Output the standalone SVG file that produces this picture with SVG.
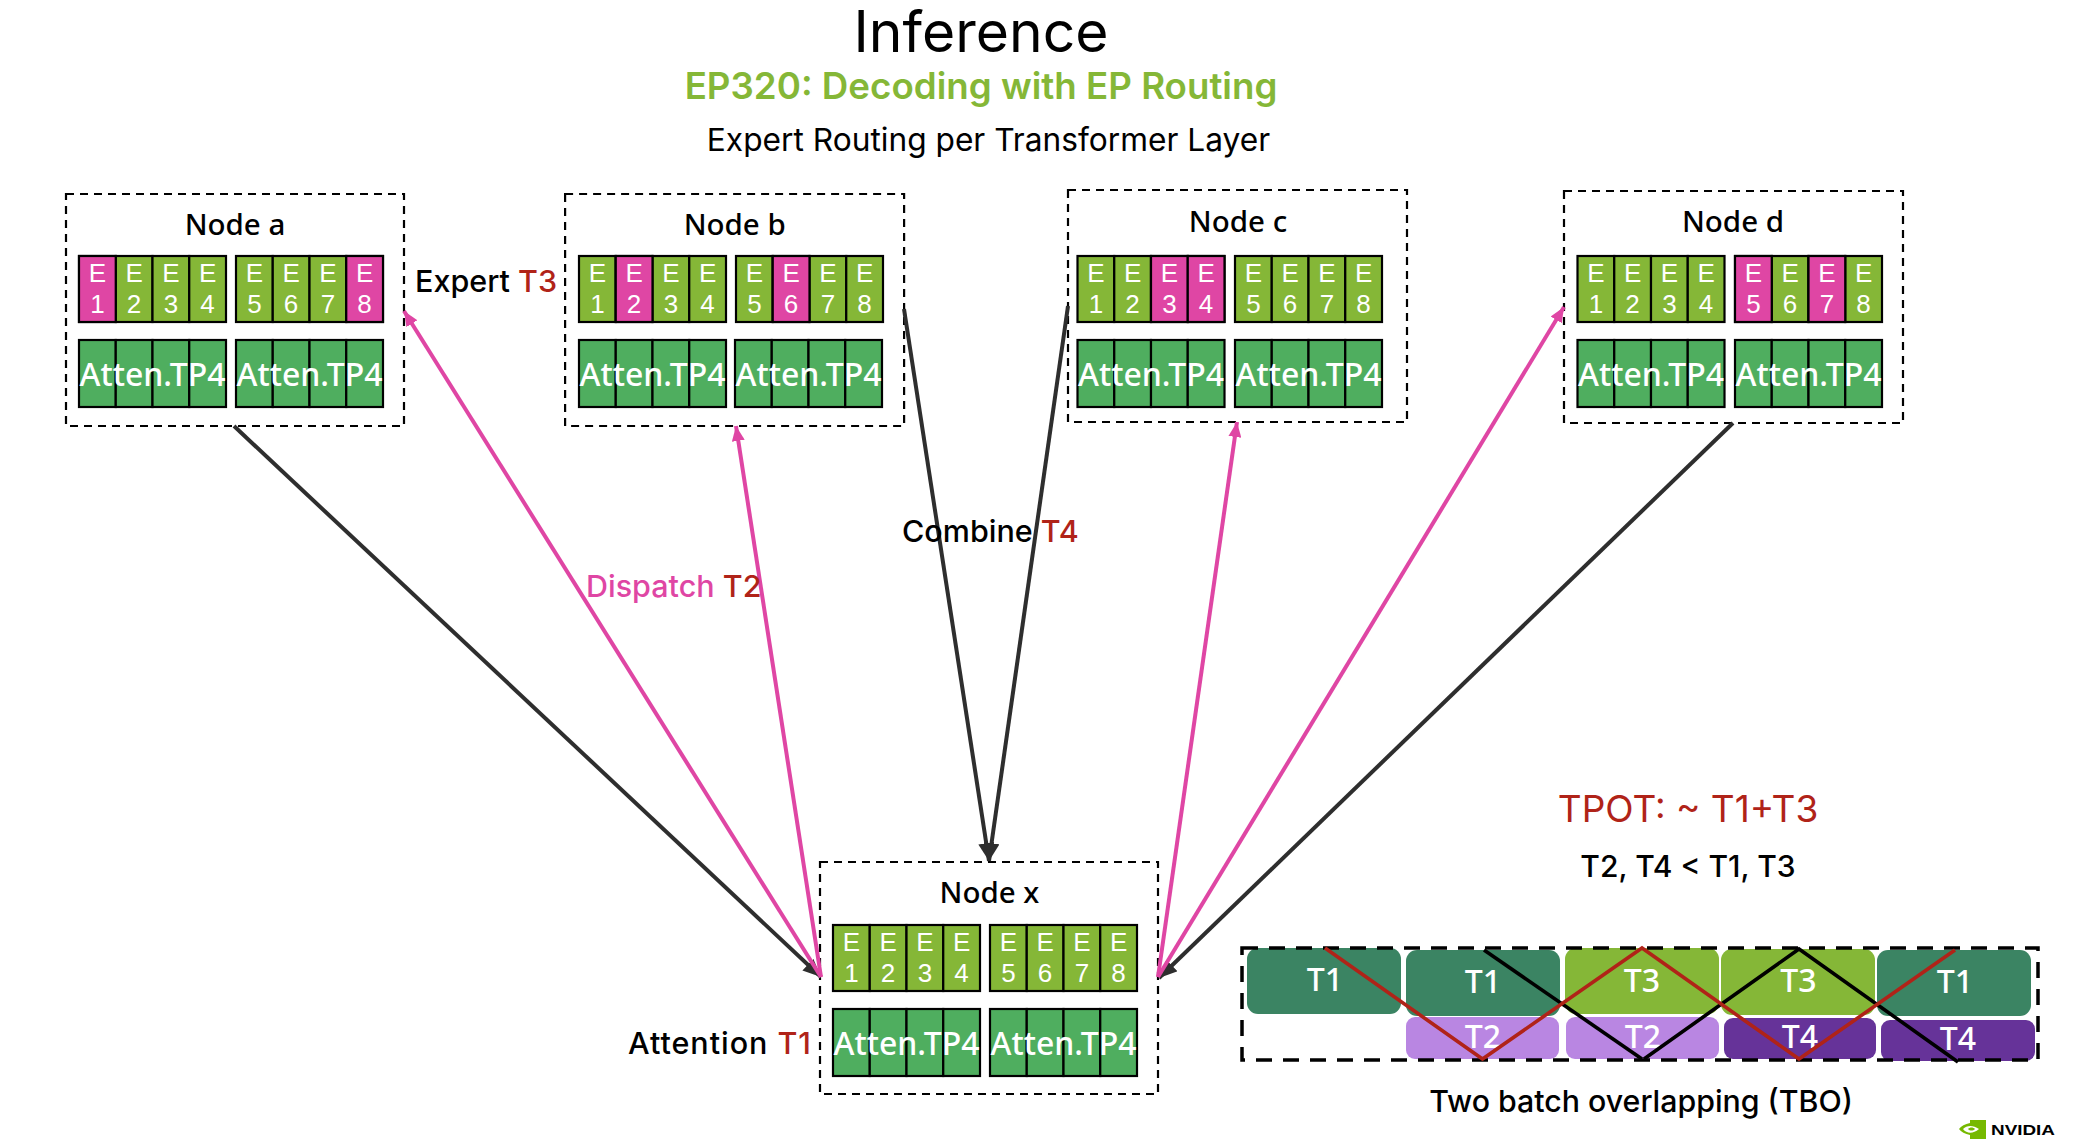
<svg xmlns="http://www.w3.org/2000/svg" width="2074" height="1140" viewBox="0 0 2074 1140">
<style>
text{font-family:"Noto Sans","Open Sans","Liberation Sans",sans-serif;fill:#000}
.i{font-family:Inter,"Noto Sans",sans-serif}
.red{fill:#B02318}
.m{text-anchor:middle}
.title{font-size:29.5px;text-anchor:middle;font-weight:500}
.e{font-family:"Liberation Sans",Arial,sans-serif;font-size:26px;fill:#fff;text-anchor:middle}
.at{font-size:32px;fill:#fff;font-weight:500}
.lbl{font-size:30.5px;font-weight:500}
.box{fill:none;stroke:#000;stroke-width:2.2;stroke-dasharray:8 6}
.ge{fill:#85B737;stroke:#000;stroke-width:2.2}
.pk{fill:#DF46A4;stroke:#000;stroke-width:2.2}
.ga{fill:#4FAE5F;stroke:#000;stroke-width:2.2}
.ln{fill:none;stroke-width:4}
.k{stroke:#2E2E2E}
.p{stroke:#DF46A4}
.tb{font-size:32px;fill:#fff;text-anchor:middle;font-weight:500}
.d{fill:#3B8463}.l{fill:#85B737}.v{fill:#B986E2}.u{fill:#663399}
.x{fill:none;stroke-width:3.6}
</style>
<defs>
<marker id="ak" markerUnits="userSpaceOnUse" markerWidth="18" markerHeight="16" viewBox="0 0 18 16" refX="18" refY="8" orient="auto"><path d="M0 0L18 8L0 16z" fill="#2E2E2E"/></marker>
<marker id="ap" markerUnits="userSpaceOnUse" markerWidth="15" markerHeight="13" viewBox="0 0 15 13" refX="15" refY="6.5" orient="auto"><path d="M0 0L15 6.5L0 13z" fill="#DF46A4"/></marker>
<g id="eb"><rect class="ge" width="36.75" height="66"/><rect class="ge" x="36.75" width="36.75" height="66"/><rect class="ge" x="73.5" width="36.75" height="66"/><rect class="ge" x="110.25" width="36.75" height="66"/></g>
<g id="ab"><rect class="ga" width="36.75" height="67"/><rect class="ga" x="36.75" width="36.75" height="67"/><rect class="ga" x="73.5" width="36.75" height="67"/><rect class="ga" x="110.25" width="36.75" height="67"/></g>
</defs>
<rect width="2074" height="1140" fill="#fff"/>
<g id="headings">
<text class="i m" x="981" y="52" font-size="57">Inference</text>
<text class="i m" x="981" y="99" font-size="36.7" font-weight="600" style="fill:#85B737">EP320: Decoding with EP Routing</text>
<text class="i m" x="988.5" y="150.7" font-size="31.7">Expert Routing per Transformer Layer</text>
</g>
<g id="node-a" transform="translate(79 256)">
<rect class="box" x="-13" y="-62" width="338" height="232"/>
<text class="title" x="156" y="-21">Node a</text>
<use href="#eb"/><use href="#eb" x="157"/><use href="#ab" y="84"/><use href="#ab" x="157" y="84"/>
<rect class="pk" width="36.75" height="66"/><rect class="pk" x="267.25" width="36.75" height="66"/>
<text class="e" y="26"><tspan x="18.4">E</tspan><tspan x="18.4" y="56.7">1</tspan></text><text class="e" y="26"><tspan x="55.1">E</tspan><tspan x="55.1" y="56.7">2</tspan></text><text class="e" y="26"><tspan x="91.9">E</tspan><tspan x="91.9" y="56.7">3</tspan></text><text class="e" y="26"><tspan x="128.6">E</tspan><tspan x="128.6" y="56.7">4</tspan></text><text class="e" y="26"><tspan x="175.4">E</tspan><tspan x="175.4" y="56.7">5</tspan></text><text class="e" y="26"><tspan x="212.1">E</tspan><tspan x="212.1" y="56.7">6</tspan></text><text class="e" y="26"><tspan x="248.9">E</tspan><tspan x="248.9" y="56.7">7</tspan></text><text class="e" y="26"><tspan x="285.6">E</tspan><tspan x="285.6" y="56.7">8</tspan></text>
<text class="at" x="0.5" y="130" textLength="146" lengthAdjust="spacingAndGlyphs">Atten.TP4</text><text class="at" x="157.5" y="130" textLength="146" lengthAdjust="spacingAndGlyphs">Atten.TP4</text>
</g>
<g id="node-b" transform="translate(579 256)">
<rect class="box" x="-13.9" y="-62" width="339" height="232"/>
<text class="title" x="155.7" y="-21">Node b</text>
<use href="#eb"/><use href="#eb" x="157"/><use href="#ab" y="84"/><use href="#ab" x="156" y="84"/>
<rect class="pk" x="36.75" width="36.75" height="66"/><rect class="pk" x="193.75" width="36.75" height="66"/>
<text class="e" y="26"><tspan x="18.4">E</tspan><tspan x="18.4" y="56.7">1</tspan></text><text class="e" y="26"><tspan x="55.1">E</tspan><tspan x="55.1" y="56.7">2</tspan></text><text class="e" y="26"><tspan x="91.9">E</tspan><tspan x="91.9" y="56.7">3</tspan></text><text class="e" y="26"><tspan x="128.6">E</tspan><tspan x="128.6" y="56.7">4</tspan></text><text class="e" y="26"><tspan x="175.4">E</tspan><tspan x="175.4" y="56.7">5</tspan></text><text class="e" y="26"><tspan x="212.1">E</tspan><tspan x="212.1" y="56.7">6</tspan></text><text class="e" y="26"><tspan x="248.9">E</tspan><tspan x="248.9" y="56.7">7</tspan></text><text class="e" y="26"><tspan x="285.6">E</tspan><tspan x="285.6" y="56.7">8</tspan></text>
<text class="at" x="0.5" y="130" textLength="146" lengthAdjust="spacingAndGlyphs">Atten.TP4</text><text class="at" x="156.5" y="130" textLength="146" lengthAdjust="spacingAndGlyphs">Atten.TP4</text>
</g>
<g id="node-c" transform="translate(1077.5 256)">
<rect class="box" x="-9.5" y="-66" width="339" height="232"/>
<text class="title" x="160.5" y="-24">Node c</text>
<use href="#eb"/><use href="#eb" x="157.5"/><use href="#ab" y="84"/><use href="#ab" x="157.5" y="84"/>
<rect class="pk" x="73.5" width="36.75" height="66"/><rect class="pk" x="110.25" width="36.75" height="66"/>
<text class="e" y="26"><tspan x="18.4">E</tspan><tspan x="18.4" y="56.7">1</tspan></text><text class="e" y="26"><tspan x="55.1">E</tspan><tspan x="55.1" y="56.7">2</tspan></text><text class="e" y="26"><tspan x="91.9">E</tspan><tspan x="91.9" y="56.7">3</tspan></text><text class="e" y="26"><tspan x="128.6">E</tspan><tspan x="128.6" y="56.7">4</tspan></text><text class="e" y="26"><tspan x="175.9">E</tspan><tspan x="175.9" y="56.7">5</tspan></text><text class="e" y="26"><tspan x="212.6">E</tspan><tspan x="212.6" y="56.7">6</tspan></text><text class="e" y="26"><tspan x="249.4">E</tspan><tspan x="249.4" y="56.7">7</tspan></text><text class="e" y="26"><tspan x="286.1">E</tspan><tspan x="286.1" y="56.7">8</tspan></text>
<text class="at" x="0.5" y="130" textLength="146" lengthAdjust="spacingAndGlyphs">Atten.TP4</text><text class="at" x="158" y="130" textLength="146" lengthAdjust="spacingAndGlyphs">Atten.TP4</text>
</g>
<g id="node-d" transform="translate(1577.5 256)">
<rect class="box" x="-13.5" y="-65" width="339" height="232"/>
<text class="title" x="155.5" y="-24">Node d</text>
<use href="#eb"/><use href="#eb" x="157.5"/><use href="#ab" y="84"/><use href="#ab" x="157.5" y="84"/>
<rect class="pk" x="157.5" width="36.75" height="66"/><rect class="pk" x="231" width="36.75" height="66"/>
<text class="e" y="26"><tspan x="18.4">E</tspan><tspan x="18.4" y="56.7">1</tspan></text><text class="e" y="26"><tspan x="55.1">E</tspan><tspan x="55.1" y="56.7">2</tspan></text><text class="e" y="26"><tspan x="91.9">E</tspan><tspan x="91.9" y="56.7">3</tspan></text><text class="e" y="26"><tspan x="128.6">E</tspan><tspan x="128.6" y="56.7">4</tspan></text><text class="e" y="26"><tspan x="175.9">E</tspan><tspan x="175.9" y="56.7">5</tspan></text><text class="e" y="26"><tspan x="212.6">E</tspan><tspan x="212.6" y="56.7">6</tspan></text><text class="e" y="26"><tspan x="249.4">E</tspan><tspan x="249.4" y="56.7">7</tspan></text><text class="e" y="26"><tspan x="286.1">E</tspan><tspan x="286.1" y="56.7">8</tspan></text>
<text class="at" x="0.5" y="130" textLength="146" lengthAdjust="spacingAndGlyphs">Atten.TP4</text><text class="at" x="158" y="130" textLength="146" lengthAdjust="spacingAndGlyphs">Atten.TP4</text>
</g>
<g id="node-x" transform="translate(833 925)">
<rect class="box" x="-13" y="-63" width="338" height="232"/>
<text class="title" x="156.4" y="-22">Node x</text>
<use href="#eb"/><use href="#eb" x="157"/><use href="#ab" y="84"/><use href="#ab" x="157" y="84"/>
<text class="e" y="26"><tspan x="18.4">E</tspan><tspan x="18.4" y="56.7">1</tspan></text><text class="e" y="26"><tspan x="55.1">E</tspan><tspan x="55.1" y="56.7">2</tspan></text><text class="e" y="26"><tspan x="91.9">E</tspan><tspan x="91.9" y="56.7">3</tspan></text><text class="e" y="26"><tspan x="128.6">E</tspan><tspan x="128.6" y="56.7">4</tspan></text><text class="e" y="26"><tspan x="175.4">E</tspan><tspan x="175.4" y="56.7">5</tspan></text><text class="e" y="26"><tspan x="212.1">E</tspan><tspan x="212.1" y="56.7">6</tspan></text><text class="e" y="26"><tspan x="248.9">E</tspan><tspan x="248.9" y="56.7">7</tspan></text><text class="e" y="26"><tspan x="285.6">E</tspan><tspan x="285.6" y="56.7">8</tspan></text>
<text class="at" x="0.5" y="130" textLength="146" lengthAdjust="spacingAndGlyphs">Atten.TP4</text><text class="at" x="157.5" y="130" textLength="146" lengthAdjust="spacingAndGlyphs">Atten.TP4</text>
</g>
<g id="connectors">
<path class="ln k" d="M234 426L821 977" marker-end="url(#ak)"/>
<path class="ln k" d="M904 309L989 861" marker-end="url(#ak)"/>
<path class="ln k" d="M1068 306L989 861" marker-end="url(#ak)"/>
<path class="ln k" d="M1733 423L1159 978" marker-end="url(#ak)"/>
<path class="ln p" d="M821 977L404 311" marker-end="url(#ap)"/>
<path class="ln p" d="M821 977L736 426" marker-end="url(#ap)"/>
<path class="ln p" d="M1158 977L1237 422" marker-end="url(#ap)"/>
<path class="ln p" d="M1158 977L1564 307" marker-end="url(#ap)"/>
</g>
<g id="labels">
<text class="i lbl" x="415" y="292">Expert <tspan class="red">T3</tspan></text>
<text class="i lbl" x="628" y="1054" textLength="183">Attention <tspan class="red">T1</tspan></text>
<text class="i lbl" x="586" y="597" style="fill:#DF46A4">Dispatch <tspan class="red">T2</tspan></text>
<text class="i lbl" x="902" y="542">Combine <tspan class="red">T4</tspan></text>
<text class="i red m" x="1688" y="822" font-size="37">TPOT: ~ T1+T3</text>
<text class="i m" x="1688" y="877" font-size="30" font-weight="500">T2, T4 &lt; T1, T3</text>
<text class="i m" x="1641" y="1112" font-size="30.3" font-weight="500">Two batch overlapping (TBO)</text>
</g>
<g id="tbo">
<rect x="1247" y="948" width="154" height="66" rx="11" class="d"/>
<rect x="1406" y="950" width="154" height="66" rx="11" class="d"/>
<rect x="1565" y="948" width="154" height="66" rx="11" class="l"/>
<rect x="1721" y="949" width="154" height="66" rx="11" class="l"/>
<rect x="1877" y="950" width="154" height="66" rx="11" class="d"/>
<rect x="1406" y="1017" width="153" height="42" rx="9" class="v"/>
<rect x="1566" y="1017" width="153" height="42" rx="9" class="v"/>
<rect x="1724" y="1018" width="152" height="41" rx="9" class="u"/>
<rect x="1881" y="1020" width="154" height="41" rx="9" class="u"/>
<rect x="1242" y="948" width="796" height="112" fill="none" stroke="#000" stroke-width="3.5" stroke-dasharray="16 11"/>
<text class="tb" x="1325" y="991">T1</text>
<text class="tb" x="1483" y="993">T1</text>
<text class="tb" x="1642" y="992">T3</text>
<text class="tb" x="1798.5" y="992">T3</text>
<text class="tb" x="1955" y="993">T1</text>
<text class="tb" x="1483" y="1048">T2</text>
<text class="tb" x="1643" y="1048">T2</text>
<text class="tb" x="1800" y="1048">T4</text>
<text class="tb" x="1958" y="1050">T4</text>
<path class="x" d="M1484 950L1642 1059" stroke="#000"/>
<path class="x" d="M1644 1059L1799 949L1958 1062" stroke="#000"/>
<path class="x" d="M1325 948L1482.5 1059L1642 948L1799 1059L1955 950" stroke="#B02318"/>
</g>
<g id="logo">
<path d="M1970 1120H1986V1139H1970V1135C1965 1134 1961 1132 1959 1129C1961 1126 1965 1124 1970 1123Z" fill="#76B900"/>
<path d="M1963 1129C1967 1125 1973 1125 1979 1129C1973 1134 1967 1134 1963 1129Z" fill="#fff"/>
<path d="M1968 1129C1970 1127 1973 1127 1975 1129C1973 1131 1970 1131 1968 1129Z" fill="#76B900"/>
<text x="1991" y="1135" font-size="15.5" font-weight="700" textLength="64" lengthAdjust="spacingAndGlyphs" style="font-family:'Liberation Sans',sans-serif">NVIDIA</text>
</g>
</svg>
